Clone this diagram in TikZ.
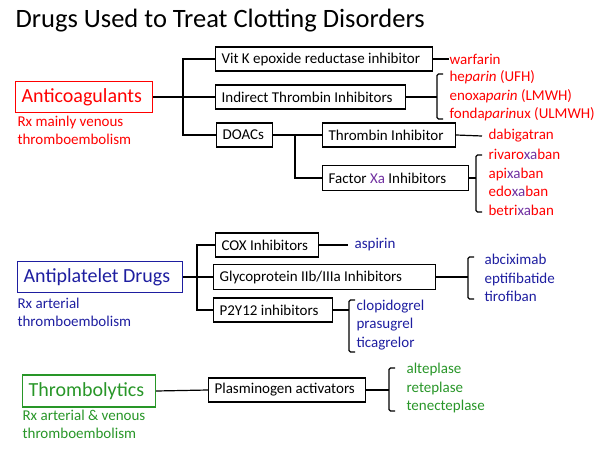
\documentclass[tikz,border=0pt]{standalone}
\usepackage{fontspec}
\setmainfont{Carlito}
\usetikzlibrary{positioning}

\definecolor{acred}{RGB}{255,0,0}
\definecolor{apblue}{RGB}{30,30,160}
\definecolor{tlgreen}{RGB}{40,150,40}
\definecolor{xapurple}{RGB}{112,48,160}

\newcommand{\xa}{\textcolor{xapurple}{xa}}

\begin{document}
\begin{tikzpicture}[x=1pt, y=-1pt, line width=1.2pt,
    groupbox/.style={draw, line width=1.2pt, anchor=west, minimum height=31pt, inner xsep=6pt, inner ysep=0pt, align=flush left, font=\fontsize{20}{22}\selectfont},
    mechbox/.style={draw, line width=1.2pt, anchor=west, minimum height=24pt, inner xsep=6pt, inner ysep=0pt, align=flush left, font=\fontsize{15}{17}\selectfont},
    druglist/.style={anchor=west, align=left, inner sep=0pt, font=\fontsize{15}{18.5}\selectfont},
    rxnote/.style={anchor=north west, align=left, inner sep=0pt, font=\fontsize{15}{18}\selectfont}]

    \useasboundingbox (0,0) rectangle (600,450);

    \node[anchor=base west, inner sep=0pt, font=\fontsize{26.5}{28}\selectfont] (title) at (15,27) {Drugs Used to Treat Clotting Disorders};

    % anticoagulants
    \node[groupbox, acred, text width=125pt] (ac) at (15,97) {Anticoagulants};
    \node[rxnote, text=acred] (acnote) at (17,115) {Rx mainly venous\\thromboembolism};

    \coordinate (acj) at (183,97);
    \node[mechbox, text width=205pt] (vitk) at (215,59) {Vit K epoxide reductase inhibitor};
    \node[mechbox, text width=178pt] (indir) at (215,97) {Indirect Thrombin Inhibitors};
    \node[mechbox, text width=44pt] (doac) at (216,135) {DOACs};
    \coordinate (dj) at (295,135);
    \node[mechbox, text width=121pt] (thr) at (322,135) {Thrombin Inhibitor};
    \node[mechbox, text width=134pt, minimum height=25pt] (fxa) at (322,178) {Factor \textcolor{xapurple}{Xa} Inhibitors};

    \draw (ac.east) -- (indir.west);
    \draw (vitk.west) -| (acj) |- (doac.west);
    \draw (doac.east) -- (thr.west);
    \draw (dj) |- (fxa.west);

    \node[druglist, text=acred] (warf) at (449,59) {warfarin};
    \node[druglist, text=acred] (hep) at (449,96) {he\textit{parin} (UFH)\\enoxa\textit{parin} (LMWH)\\fonda\textit{parin}ux (ULMWH)};
    \node[druglist, text=acred] (dabi) at (488,136) {dabigatran};
    \node[druglist, text=acred] (xaban) at (488,182.5) {rivaro\xa ban\\api\xa ban\\edo\xa ban\\betri\xa ban};

    \coordinate (hept) at (437,74);
    \coordinate (hepb) at (437,119);
    \coordinate (xat) at (476,155);
    \coordinate (xab) at (476,212);

    \draw (vitk.east) -- (warf.west);
    \draw (indir.east) -- (indir.east -| hept);
    \draw[rounded corners=1.5pt] ([xshift=6pt]hept) -- (hept) -- (hepb) -- ([xshift=6pt]hepb);
    \draw (thr.east) -- ([xshift=-6pt]dabi.west);
    \draw (fxa.east) -- (fxa.east -| xat);
    \draw[rounded corners=1.5pt] ([xshift=6pt]xat) -- (xat) -- (xab) -- ([xshift=6pt]xab);

    % antiplatelet drugs
    \node[groupbox, apblue, text width=153pt] (ap) at (17,277) {Antiplatelet Drugs};
    \node[rxnote, text=apblue] (apnote) at (17,297) {Rx arterial\\thromboembolism};

    \coordinate (apj) at (197,277);
    \node[mechbox, text width=91pt] (cox) at (215,245) {COX Inhibitors};
    \node[mechbox, text width=210pt, minimum height=25pt] (gp) at (213,277) {Glycoprotein IIb/IIIa Inhibitors};
    \node[mechbox, text width=107pt] (p2y) at (213,310) {P2Y12 inhibitors};

    \draw (ap.east) -- (gp.west);
    \draw (cox.west) -| (apj) |- (p2y.west);

    \node[druglist, text=apblue] (asp) at (354,245) {aspirin};
    \node[druglist, text=apblue] (gpi) at (484,278) {abciximab\\eptifibatide\\tirofiban};
    \node[druglist, text=apblue] (p2yi) at (356,325) {clopidogrel\\prasugrel\\ticagrelor};

    \coordinate (gpt) at (468,257);
    \coordinate (gpb) at (468,299);
    \coordinate (p2yt) at (349,300);
    \coordinate (p2yb) at (349,352);

    \draw (cox.east) -- ([xshift=-6pt]asp.west);
    \draw (gp.east) -- (gp.east -| gpt);
    \draw[rounded corners=1.5pt] ([xshift=6pt]gpt) -- (gpt) -- (gpb) -- ([xshift=6pt]gpb);
    \draw (p2y.east) -- (p2y.east -| p2yt);
    \draw[rounded corners=1.5pt] ([xshift=6pt]p2yt) -- (p2yt) -- (p2yb) -- ([xshift=6pt]p2yb);

    % thrombolytics
    \node[groupbox, tlgreen, text width=121pt, minimum height=32pt] (tl) at (22,391) {Thrombolytics};
    \node[rxnote, text=tlgreen] (tlnote) at (22,409) {Rx arterial \& venous\\thromboembolism};

    \node[mechbox, text width=145pt] (plas) at (208,390) {Plasminogen activators};
    \node[druglist, text=tlgreen] (tpa) at (406,388) {alteplase\\reteplase\\tenecteplase};

    \coordinate (tpat) at (389,368);
    \coordinate (tpab) at (389,411);

    \draw (tl.east) -- (plas.west);
    \draw (plas.east) -- (plas.east -| tpat);
    \draw[rounded corners=1.5pt] ([xshift=6pt]tpat) -- (tpat) -- (tpab) -- ([xshift=6pt]tpab);

\end{tikzpicture}
\end{document}
